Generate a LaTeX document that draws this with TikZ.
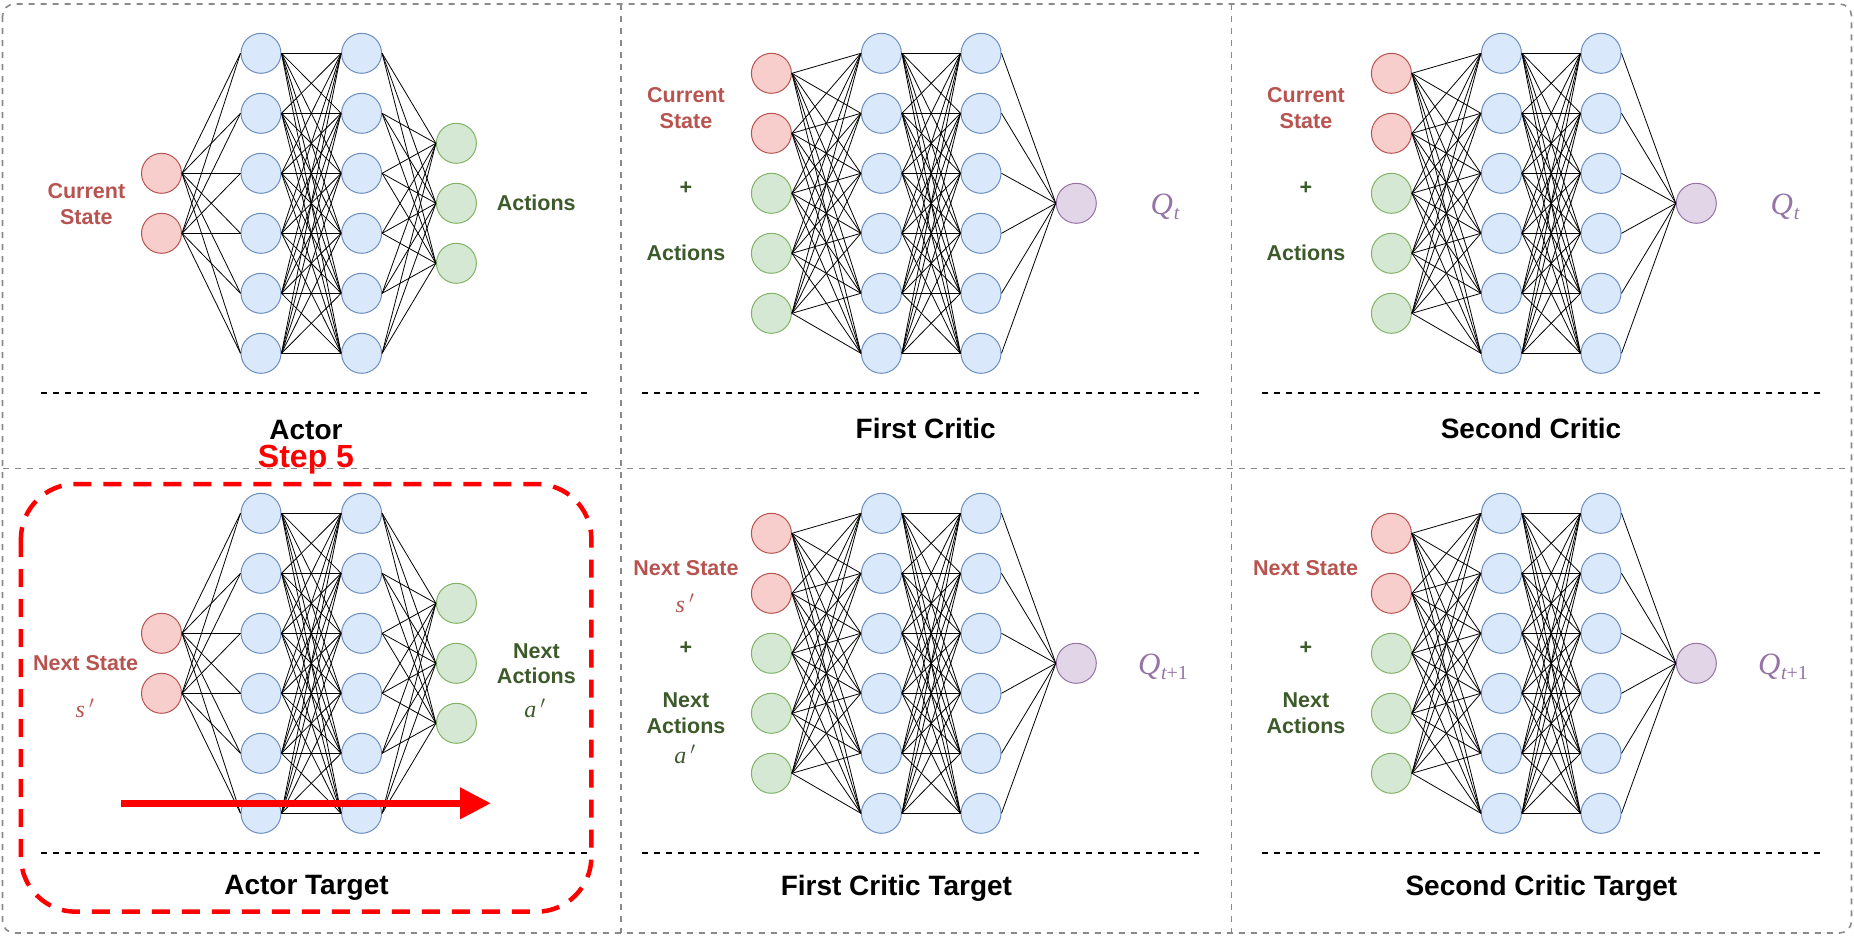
\documentclass[tikz,border=0pt]{standalone}
\usepackage{fontspec}
\setmainfont{Liberation Sans}
\newfontfamily\tnr{Liberation Serif}
\usetikzlibrary{arrows.meta}
\definecolor{rfill}{HTML}{F8CECC}\definecolor{rdraw}{HTML}{B85450}
\definecolor{bfill}{HTML}{DAE8FC}\definecolor{bdraw}{HTML}{6C8EBF}
\definecolor{gfill}{HTML}{D5E8D4}\definecolor{gdraw}{HTML}{82B366}
\definecolor{pfill}{HTML}{E1D5E7}\definecolor{pdraw}{HTML}{9673A6}
\definecolor{redtxt}{HTML}{B85450}
\definecolor{greentxt}{HTML}{3D5A2B}
\definecolor{purptxt}{HTML}{9673A6}
\definecolor{framegray}{HTML}{8A8A8A}
\tikzset{
  neuron/.style={circle, minimum size=40pt, inner sep=0pt, line width=1pt},
  rn/.style={neuron, fill=rfill, draw=rdraw},
  bn/.style={neuron, fill=bfill, draw=bdraw},
  gn/.style={neuron, fill=gfill, draw=gdraw},
  pn/.style={neuron, fill=pfill, draw=pdraw},
  conn/.style={line width=0.8pt, black},
  sepline/.style={line width=2pt, dash pattern=on 6pt off 6pt, black},
  frame/.style={line width=1.6pt, dash pattern=on 6pt off 6pt, framegray},
  lbl/.style={font=\bfseries\fontsize{21.5}{25.8}\selectfont, align=center, inner sep=0pt},
  redlbl/.style={lbl, text=redtxt},
  grnlbl/.style={lbl, text=greentxt},
  ttl/.style={font=\bfseries\fontsize{28}{33}\selectfont, inner sep=0pt},
  qlbl/.style={inner sep=0pt, text=purptxt},
  varlbl/.style={inner sep=0pt, font=\tnr\itshape\fontsize{24}{24}\selectfont},
}
\newcommand\Qt{{\tnr\itshape\fontsize{31}{31}\selectfont Q\kern1pt\raisebox{-5pt}{\fontsize{20}{20}\selectfont t}}}
\newcommand\Qtt{{\tnr\itshape\fontsize{31}{31}\selectfont Q\kern0.5pt\raisebox{-5pt}{\fontsize{20}{20}\selectfont t\upshape+1}}}
\newcommand\vprime[1]{#1\kern4pt$^{\prime}$}
\newcommand\actornet[2]{%
  \foreach \i/\yy in {1/173.3,2/233.3} \node[rn] (#1i\i) at (161.5,\yy+#2) {};
  \foreach \j in {1,...,6} \node[bn] (#1a\j) at (261,53.3+60*\j-60+#2) {};
  \foreach \j in {1,...,6} \node[bn] (#1b\j) at (361.6,53.3+60*\j-60+#2) {};
  \foreach \k/\yy in {1/143.3,2/203.3,3/263.3} \node[gn] (#1o\k) at (456.4,\yy+#2) {};
  \foreach \i in {1,2} \foreach \j in {1,...,6} \draw[conn] (#1i\i.east) -- (#1a\j.west);
  \foreach \i in {1,...,6} \foreach \j in {1,...,6} \draw[conn] (#1a\i.east) -- (#1b\j.west);
  \foreach \i in {1,...,6} \foreach \k in {1,2,3} \draw[conn] (#1b\i.east) -- (#1o\k.west);
}
\newcommand\criticnet[3]{%
  \foreach \i in {1,2} \node[rn] (#1i\i) at (771.4+#2,73.3+60*\i-60+#3) {};
  \foreach \i in {3,4,5} \node[gn] (#1i\i) at (771.4+#2,73.3+60*\i-60+#3) {};
  \foreach \j in {1,...,6} \node[bn] (#1a\j) at (881.4+#2,53.3+60*\j-60+#3) {};
  \foreach \j in {1,...,6} \node[bn] (#1b\j) at (981+#2,53.3+60*\j-60+#3) {};
  \node[pn] (#1o) at (1076.3+#2,203.3+#3) {};
  \foreach \i in {1,...,5} \foreach \j in {1,...,6} \draw[conn] (#1i\i.east) -- (#1a\j.west);
  \foreach \i in {1,...,6} \foreach \j in {1,...,6} \draw[conn] (#1a\i.east) -- (#1b\j.west);
  \foreach \i in {1,...,6} \draw[conn] (#1b\i.east) -- (#1o.west);
}
\begin{document}
\begin{tikzpicture}[x=1pt,y=-1pt]
\useasboundingbox (0,0) rectangle (1854,940);
% frame and dividers
\draw[frame, rounded corners=12pt] (2.5,4) rectangle (1851.5,933);
\draw[frame] (621,4) -- (621,933);
\draw[frame] (1231.5,4) -- (1231.5,933);
\draw[frame] (2.5,468.3) -- (1851.5,468.3);
% highlight box
\draw[red, line width=4.5pt, dash pattern=on 18pt off 12pt, rounded corners=55pt] (20.9,484) rectangle (591.4,911.7);
% networks
\actornet{A}{0}
\actornet{AT}{460}
\criticnet{C}{0}{0}
\criticnet{CT}{0}{460}
\criticnet{D}{620}{0}
\criticnet{DT}{620}{460}
% separators
\coordinate (sA1) at (41.4,393.3); \coordinate (sA2) at (587,393.3);
\coordinate (sB1) at (41.4,853.3); \coordinate (sB2) at (587,853.3);
\coordinate (sC1) at (641.7,393.3); \coordinate (sC2) at (1199,393.3);
\coordinate (sD1) at (641.7,853.3); \coordinate (sD2) at (1199,853.3);
\coordinate (sE1) at (1261.8,393.3); \coordinate (sE2) at (1819.7,393.3);
\coordinate (sF1) at (1261.8,853.3); \coordinate (sF2) at (1819.7,853.3);
\foreach \s in {A,B,C,D,E,F} \draw[sepline] (s\s1) -- (s\s2);
% Actor labels
\node[redlbl] (lA1) at (86.4,204) {Current\\State};
\node[grnlbl] (lA2) at (536.2,203.3) {Actions};
\node[ttl] (tA) at (306,430) {Actor};
% Actor target labels
\node[redlbl] (lAT1) at (85.6,663.3) {Next State};
\node[varlbl, text=redtxt] (lAT2) at (85,708) {\vprime{s}};
\node[grnlbl] (lAT3) at (536.4,663.7) {Next\\Actions};
\node[varlbl, text=greentxt] (lAT4) at (535,708) {\vprime{a}};
\node[ttl] (tAT) at (306.5,888) {Actor Target};
% First critic labels
\node[redlbl] (lC1) at (686,108.3) {Current\\State};
\node[grnlbl] (lC2) at (686,188.3) {+};
\node[grnlbl] (lC3) at (686,253.3) {Actions};
\node[qlbl] (qC) at (1165,207) {\Qt};
\node[ttl] (tC) at (925.7,428.3) {First Critic};
% First critic target labels
\node[redlbl] (lCT1) at (686,568.3) {Next State};
\node[varlbl, text=redtxt] (lCT2) at (685,603) {\vprime{s}};
\node[grnlbl] (lCT3) at (686,648.3) {+};
\node[grnlbl] (lCT4) at (686,713.3) {Next\\Actions};
\node[varlbl, text=greentxt] (lCT5) at (685,754) {\vprime{a}};
\node[qlbl] (qCT) at (1163,667) {\Qtt};
\node[ttl] (tCT) at (896.4,888) {First Critic Target};
% Second critic labels
\node[redlbl] (lD1) at (1306,108.3) {Current\\State};
\node[grnlbl] (lD2) at (1306,188.3) {+};
\node[grnlbl] (lD3) at (1306,253.3) {Actions};
\node[qlbl] (qD) at (1785,207) {\Qt};
\node[ttl] (tD) at (1531,428.3) {Second Critic};
% Second critic target labels
\node[redlbl] (lDT1) at (1305.6,568.3) {Next State};
\node[grnlbl] (lDT2) at (1306,648.3) {+};
\node[grnlbl] (lDT3) at (1306,713.3) {Next\\Actions};
\node[qlbl] (qDT) at (1783,667) {\Qtt};
\node[ttl] (tDT) at (1541.4,888) {Second Critic Target};
% Step 5 and arrow
\node[inner sep=0pt, text=red, font=\bfseries\fontsize{32}{36}\selectfont] (step) at (306,460) {Step 5};
\coordinate (arrS) at (121.3,803.3);
\coordinate (arrE) at (491,803.3);
\draw[red, line width=7pt, -{Triangle[length=31pt,width=30pt]}] (arrS) -- (arrE);
\end{tikzpicture}
\end{document}
